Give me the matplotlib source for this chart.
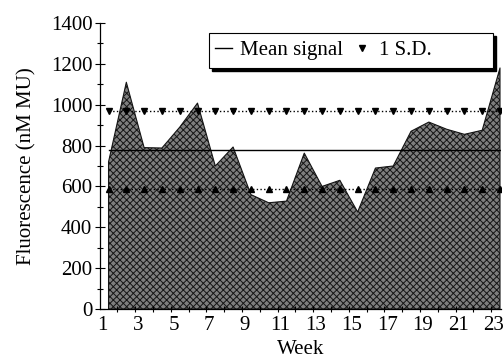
import numpy as np
import matplotlib
matplotlib.use('Agg')
import matplotlib.pyplot as plt
import matplotlib.transforms as mtransforms
from matplotlib.lines import Line2D
from matplotlib.patches import Rectangle
from matplotlib.ticker import MultipleLocator

plt.rcParams['font.family'] = 'Liberation Serif'
plt.rcParams['hatch.linewidth'] = 0.7

weeks = np.arange(1, 24)
signal = [720, 1110, 790, 788, 890, 1008, 700, 793, 560, 520, 528, 763,
          600, 630, 475, 690, 700, 870, 915, 880, 855, 875, 1180]
mean_signal = 778
sd_upper = 968
sd_lower = 588

fig = plt.figure(figsize=(5.03, 3.6), dpi=100)
ax = fig.add_axes([0.1988, 0.1417, 0.797, 0.7944])

ax.fill_between(weeks, 0, signal, facecolor='#7e7e7e', edgecolor='#151515',
                hatch='xxxxx', linewidth=0.8)
ax.plot(weeks, [mean_signal] * len(weeks), color='k', lw=1.0)
ax.plot(weeks, [sd_upper] * len(weeks), color='k', ls=':', lw=1.0,
        marker='v', markersize=5)
ax.plot(weeks, [sd_lower] * len(weeks), color='k', ls=':', lw=1.0,
        marker='^', markersize=5)

ax.set_xlim(0.52, 23.05)
ax.set_ylim(0, 1400)
ax.set_xticks(weeks[::2])
ax.set_xticks(np.arange(1.5, 23, 1), minor=True)
ax.yaxis.set_major_locator(MultipleLocator(200))
ax.yaxis.set_minor_locator(MultipleLocator(100))
ax.tick_params(axis='both', which='major', direction='inout', length=7,
               width=0.8, labelsize=15, pad=2)
ax.tick_params(axis='x', which='major', length=0, pad=5)
ax.tick_params(axis='both', which='minor', direction='inout', length=5, width=0.8)

# labels in the scan sit a few pixels left of the category centres
shift = mtransforms.ScaledTranslation(-6 / 100, 0, fig.dpi_scale_trans)
for lab in ax.get_xticklabels():
    lab.set_transform(lab.get_transform() + shift)

for s in ['top', 'right']:
    ax.spines[s].set_visible(False)
for s in ['left', 'bottom']:
    ax.spines[s].set_linewidth(0.9)

ax.set_xlabel('Week', fontsize=15, labelpad=4)
ax.set_ylabel('Fluorescence (nM MU)', fontsize=15, labelpad=10)

# legend box with a solid drop shadow
bx, by, bw, bh = 0.2725, 0.843, 0.7075, 0.122
ax.add_patch(Rectangle((bx + 0.008, by - 0.011), bw, bh, transform=ax.transAxes,
                       facecolor='k', edgecolor='k', zorder=5, clip_on=False))
ax.add_patch(Rectangle((bx, by), bw, bh, transform=ax.transAxes,
                       facecolor='white', edgecolor='k', lw=0.8, zorder=6,
                       clip_on=False))
handles = [Line2D([], [], color='k', lw=1.0),
           Line2D([], [], color='k', ls='none', marker='v', markersize=5)]
leg = ax.legend(handles, ['Mean signal', '1 S.D.'], ncol=2,
                loc='center left', bbox_to_anchor=(bx, by + bh / 2),
                fontsize=15, frameon=False, borderaxespad=0,
                handlelength=0.8, handletextpad=0.4, borderpad=0.3,
                columnspacing=0.5)
leg.set_zorder(7)

plt.savefig('out.png', dpi=100)
